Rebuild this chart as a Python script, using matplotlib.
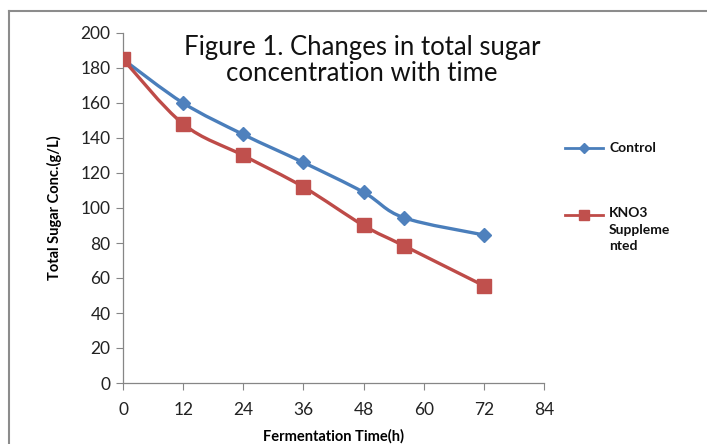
import numpy as np
import matplotlib
matplotlib.use("Agg")
import matplotlib.pyplot as plt
from matplotlib.path import Path
from matplotlib.patches import PathPatch
from matplotlib.lines import Line2D

plt.rcParams['font.family'] = ['Lato', 'DejaVu Sans']

time_h = [0, 12, 24, 36, 48, 56, 72]
control = [185, 160, 142, 126, 109, 94.5, 84.6]
kno3 = [185, 148, 130, 112, 90, 78.5, 55.6]
x_ticks = [0, 12, 24, 36, 48, 60, 72, 84]
y_ticks = [0, 20, 40, 60, 80, 100, 120, 140, 160, 180, 200]

blue_line = '#4A7EBB'
blue_mark = '#4F81BD'
red_line = '#BE4B48'
red_mark = '#C0504D'


def smooth_path(xs, ys):
    # excel style smoothed line: catmull-rom turned into cubic bezier pieces
    pts = np.column_stack([xs, ys]).astype(float)
    verts = [pts[0]]
    codes = [Path.MOVETO]
    n = len(pts)
    for i in range(n - 1):
        p0 = pts[i - 1] if i > 0 else pts[i]
        p1 = pts[i]
        p2 = pts[i + 1]
        p3 = pts[i + 2] if i + 2 < n else pts[i + 1]
        c1 = p1 + (p2 - p0) / 6.0
        c2 = p2 - (p3 - p1) / 6.0
        verts += [c1, c2, p2]
        codes += [Path.CURVE4] * 3
    return Path(verts, codes)


fig = plt.figure(figsize=(7.07, 4.44), dpi=100)
ax = fig.add_axes([123 / 707, 61 / 444, 421 / 707, 350 / 444])

ax.add_patch(PathPatch(smooth_path(time_h, control), fill=False,
                       edgecolor=blue_line, lw=2.4, capstyle='round', zorder=2))
ax.add_patch(PathPatch(smooth_path(time_h, kno3), fill=False,
                       edgecolor=red_line, lw=2.4, capstyle='round', zorder=2))
ax.plot(time_h, control, ls='none', marker='D', ms=7, color=blue_mark, zorder=3)
ax.plot(time_h, kno3, ls='none', marker='s', ms=10, color=red_mark, zorder=4)

ax.set_xlim(0, 84)
ax.set_ylim(0, 200)
ax.set_xticks(x_ticks)
ax.set_yticks(y_ticks)
for s in ['top', 'right']:
    ax.spines[s].set_visible(False)
for s in ['left', 'bottom']:
    ax.spines[s].set_color('#868686')
    ax.spines[s].set_linewidth(0.9)
ax.tick_params(direction='out', length=5, color='#868686', labelsize=12.5,
               labelcolor='#222222', pad=4)
ax.tick_params(axis='x', pad=9)

ax.set_xlabel('Fermentation Time(h)', fontsize=10.5, fontweight='bold', labelpad=8)
ax.set_ylabel('Total Sugar Conc.(g/L)', fontsize=10.5, fontweight='bold', labelpad=13)

ax.text(0.568, 0.995, 'Figure 1. Changes in total sugar\nconcentration with time',
        transform=ax.transAxes, ha='center', va='top', fontsize=18.5,
        linespacing=1.05, color='#111111')

# legend drawn by hand so the marker sits on the first label line
fig.add_artist(Line2D([565 / 707, 603 / 707], [1 - 148 / 444] * 2, color=blue_line, lw=2,
                      transform=fig.transFigure))
fig.add_artist(Line2D([584 / 707], [1 - 148 / 444], marker='D', ms=5, color=blue_mark,
                      transform=fig.transFigure))
fig.text(609 / 707, 1 - 148 / 444, 'Control', fontsize=10, fontweight='bold',
         va='center', color='#111111')
fig.add_artist(Line2D([565 / 707, 603 / 707], [1 - 215 / 444] * 2, color=red_line, lw=2,
                      transform=fig.transFigure))
fig.add_artist(Line2D([584 / 707], [1 - 215 / 444], marker='s', ms=7, color=red_mark,
                      transform=fig.transFigure))
fig.text(609 / 707, 1 - 207 / 444, 'KNO3\nSuppleme\nnted', fontsize=10, fontweight='bold',
         va='top', linespacing=1.45, color='#111111')

# chart area border (top and left edge visible)
fig.add_artist(Line2D([9 / 707, 1], [1 - 11 / 444] * 2, color='#8C8C8C', lw=1.5,
                      transform=fig.transFigure))
fig.add_artist(Line2D([9 / 707] * 2, [0, 1 - 11 / 444], color='#8C8C8C', lw=1.5,
                      transform=fig.transFigure))

fig.savefig('out.png', dpi=100)
